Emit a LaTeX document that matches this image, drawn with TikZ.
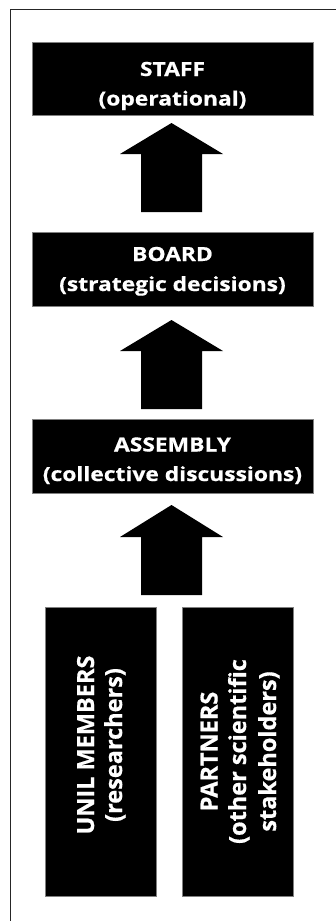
\documentclass[tikz,border=0pt]{standalone}
\usepackage{fontspec}
\usepackage{graphicx}
\setmainfont{Open Sans}[BoldFeatures={FakeBold=0.6}]
\newcommand{\hstretch}[1]{\scalebox{1.17}[1]{#1}}
\begin{document}
\begin{tikzpicture}[x=1pt,y=1pt,
  blk/.style={fill=black,draw=black!50,line width=0.7pt,inner sep=0pt},
  htxt/.style={text=white,font=\bfseries\fontsize{19.5}{24}\selectfont,anchor=base,inner sep=0pt},
  vtxt/.style={text=white,font=\bfseries\fontsize{23.5}{28}\selectfont,anchor=base,rotate=90,inner sep=0pt},
  barrow/.style={fill=black,draw=none}]
\useasboundingbox (0,0) rectangle (335,-921);
\draw[line width=1.8pt,black!85] (10.5,-921) -- (10.5,-9.5) -- (336,-9.5);
% boxes
\node[blk,minimum width=281pt,minimum height=73pt] (staff) at (172.5,-78.5) {};
\node[blk,minimum width=281pt,minimum height=74pt] (board) at (172.5,-269) {};
\node[blk,minimum width=281pt,minimum height=74pt] (assembly) at (172.5,-456) {};
\node[blk,minimum width=111pt,minimum height=289pt] (unil) at (100.5,-751.5) {};
\node[blk,minimum width=111pt,minimum height=289pt] (partners) at (237.5,-751.5) {};
% horizontal labels
\node[htxt] (staff1) at (172.5,-76) {\hstretch{STAFF}};
\node[htxt] (staff2) at (172.5,-105.5) {\hstretch{(operational)}};
\node[htxt] (board1) at (172.5,-261) {\hstretch{BOARD}};
\node[htxt] (board2) at (172.5,-291) {\hstretch{(strategic decisions)}};
\node[htxt] (assembly1) at (172.5,-451.5) {\hstretch{ASSEMBLY}};
\node[htxt] (assembly2) at (172.5,-481) {\hstretch{(collective discussions)}};
% vertical labels
\node[vtxt] (unil1) at (94,-745) {UNIL MEMBERS};
\node[vtxt] (unil2) at (122,-745) {(researchers)};
\node[vtxt] (part1) at (217.5,-751.5) {PARTNERS};
\node[vtxt] (part2) at (246,-751.5) {(other scientific};
\node[vtxt] (part3) at (276,-751.5) {stakeholders)};
% block arrows
\coordinate (a1) at (171.5,-212);
\coordinate (a2) at (171.5,-409);
\coordinate (a3) at (171.5,-595);
\fill[barrow] (a1) ++(-30.5,0) -- ++(0,58) -- ++(-21,0) -- ++(51.5,31) -- ++(51.5,-31) -- ++(-21,0) -- ++(0,-58) -- cycle;
\fill[barrow] (a2) ++(-30.5,0) -- ++(0,58) -- ++(-21,0) -- ++(51.5,31) -- ++(51.5,-31) -- ++(-21,0) -- ++(0,-58) -- cycle;
\fill[barrow] (a3) ++(-30.5,0) -- ++(0,58) -- ++(-21,0) -- ++(51.5,32) -- ++(51.5,-32) -- ++(-21,0) -- ++(0,-58) -- cycle;
\end{tikzpicture}
\end{document}
